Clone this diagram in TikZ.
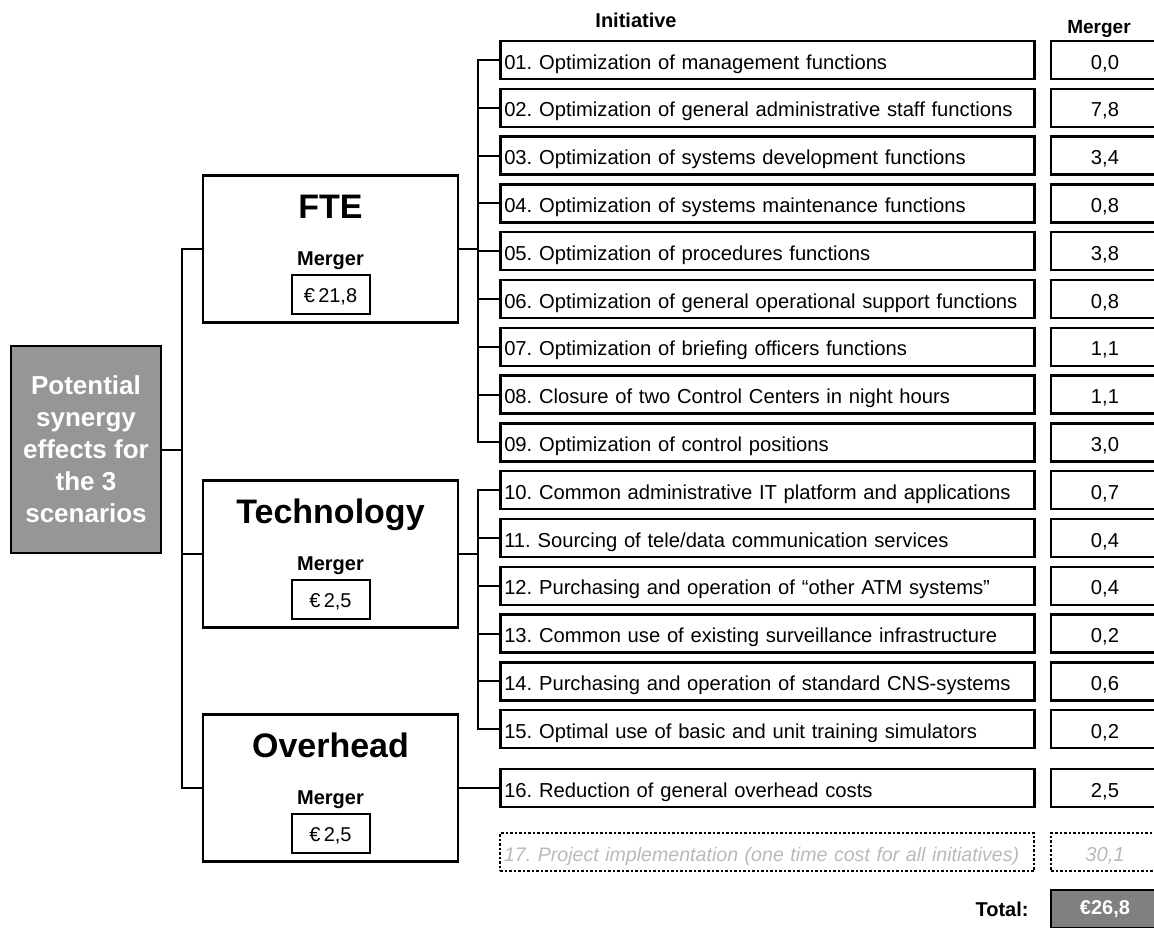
\documentclass[tikz,border=0pt]{standalone}
\usepackage{fontspec}
\setmainfont{Liberation Sans}
\usetikzlibrary{positioning,calc}
\frenchspacing

\definecolor{rootgray}{RGB}{150,150,150}
\definecolor{totalgray}{RGB}{128,128,128}
\definecolor{plangray}{RGB}{185,185,185}

\tikzset{
  rootbox/.style={draw, line width=2.5pt, fill=rootgray, text=white,
    minimum width=150pt, minimum height=207pt, inner sep=0pt, align=center,
    font=\fontsize{26}{32}\selectfont\bfseries},
  catbox/.style={draw, line width=2.5pt, minimum width=255pt, minimum height=147pt, inner sep=0pt},
  cattitle/.style={anchor=base, inner sep=0pt, font=\fontsize{34}{34}\selectfont\bfseries},
  catlabel/.style={anchor=base, inner sep=0pt, font=\fontsize{20}{20}\selectfont\bfseries},
  catvalue/.style={draw, line width=2pt, minimum width=78pt, minimum height=39pt, inner sep=0pt,
    text height=17pt, text depth=0pt, font=\fontsize{20}{20}\selectfont},
  initbox/.style={draw, line width=2.5pt, anchor=west, minimum height=38pt, inner ysep=0pt,
    inner xsep=4pt, text width=526pt, text height=18pt, text depth=0pt, align=left,
    font=\fontsize{20.2}{20.2}\selectfont},
  valbox/.style={draw, line width=2.5pt, minimum width=108pt, minimum height=38pt, inner sep=0pt,
    text height=18pt, text depth=0pt, font=\fontsize{20.2}{20.2}\selectfont},
  planbox/.style={initbox, dotted, line width=2pt, text=plangray, font=\fontsize{19.6}{19.6}\selectfont\itshape},
  hdlabel/.style={inner sep=0pt, font=\fontsize{20}{20}\selectfont\bfseries},
  link/.style={line width=2pt},
}

\begin{document}
\begin{tikzpicture}[x=1pt, y=-1pt]
\useasboundingbox (0,0) rectangle (1154,927);

% -------- Root box --------
\node[rootbox] (root) at (86,449.5) {Potential\\synergy\\effects for\\the 3\\scenarios};

% -------- Category boxes --------
\node[catbox] (fte)  at (330.5,249) {};
\node[catbox] (tech) at (330.5,554) {};
\node[catbox] (ovh)  at (330.5,788) {};

\foreach \cat/\title/\amount in {fte/FTE/{21,8}, tech/Technology/{2,5}, ovh/Overhead/{2,5}}{
  \node[cattitle] (\cat Title) at ($(\cat.north)+(0,44)$) {\title};
  \node[catlabel] (\cat Label) at ($(\cat.north)+(0,91)$) {Merger};
  \node[catvalue] (\cat Value) at ($(\cat.north)+(0,120)$) {€\,\amount};
}

% -------- Headers --------
\node[hdlabel] (hdInit) at (636,20) {Initiative};
\node[hdlabel, font=\fontsize{19}{19}\selectfont\bfseries] (hdMerger) at (1099,29) {Merger};

% -------- Initiatives 01-15 --------
\foreach \n/\txt/\val [count=\i] in {
  01/{Optimization of management functions}/{0,0},
  02/{Optimization of general administrative staff functions}/{7,8},
  03/{Optimization of systems development functions}/{3,4},
  04/{Optimization of systems maintenance functions}/{0,8},
  05/{Optimization of procedures functions}/{3,8},
  06/{Optimization of general operational support functions}/{0,8},
  07/{Optimization of briefing officers functions}/{1,1},
  08/{Closure of two Control Centers in night hours}/{1,1},
  09/{Optimization of control positions}/{3,0},
  10/{Common administrative IT platform and applications}/{0,7},
  11/{Sourcing of tele/data communication services}/{0,4},
  12/{Purchasing and operation of “other ATM systems”}/{0,4},
  13/{Common use of existing surveillance infrastructure}/{0,2},
  14/{Purchasing and operation of standard CNS-systems}/{0,6},
  15/{Optimal use of basic and unit training simulators}/{0,2}%
}{
  \pgfmathsetmacro{\rowy}{60+(\i-1)*47.8}
  \node[initbox] (i\n) at (499,\rowy) {\n. \txt};
  \node[valbox] (v\n) at (1105,\rowy) {\val};
}

% -------- Initiatives 16-17 --------
\node[initbox] (i16) at (499,788) {16. Reduction of general overhead costs};
\node[valbox] (v16) at (1105,788) {2,5};
\node[planbox] (i17) at (499,852) {\mbox{17. Project implementation (one time cost for all initiatives)}};
\node[valbox, dotted, line width=2pt, text=plangray, font=\fontsize{20.2}{20.2}\selectfont\itshape] (v17) at (1105,852) {30,1};

% -------- Total --------
\node[valbox, fill=totalgray, text=white, text height=14pt, text depth=4pt,
  font=\fontsize{20}{20}\selectfont\bfseries] (total) at (1105,909) {€26,8};
\node[hdlabel, left=21pt of total] (totalLabel) {Total:};

% -------- Connectors --------
\coordinate (trunk) at (182,0);
\coordinate (brk) at (478,0);

\draw[link] (root.east) -- (root.east -| trunk);
\draw[link] (fte.west) -| (trunk |- ovh.west) -- (ovh.west);
\draw[link] (tech.west) -- (tech.west -| trunk);

\draw[link] (fte.east) -- (fte.east -| brk);
\draw[link] (i01.west) -| (brk |- i09.west) -- (i09.west);
\foreach \n in {02,03,04,05,06,07,08}
  \draw[link] (i\n.west) -- (i\n.west -| brk);

\draw[link] (tech.east) -- (tech.east -| brk);
\draw[link] (i10.west) -| (brk |- i15.west) -- (i15.west);
\foreach \n in {11,12,13,14}
  \draw[link] (i\n.west) -- (i\n.west -| brk);

\draw[link] (ovh.east) -- (i16.west);

\end{tikzpicture}
\end{document}
